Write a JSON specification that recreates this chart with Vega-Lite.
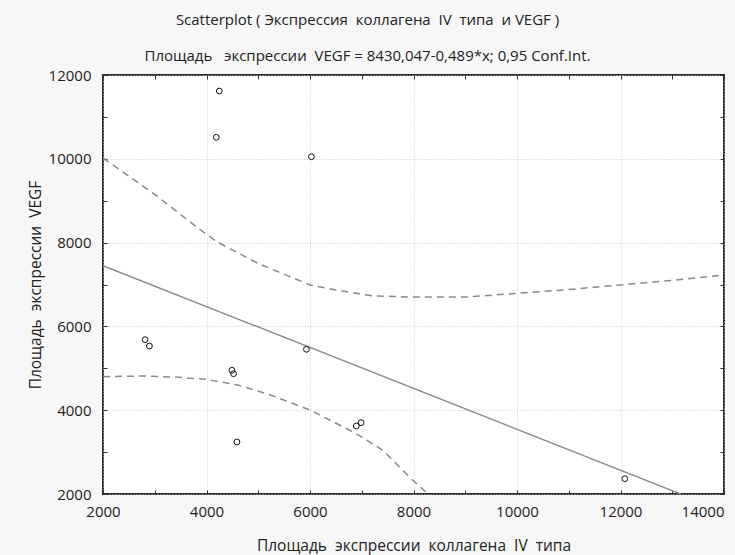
{
  "$schema": "https://vega.github.io/schema/vega-lite/v6.json",
  "width": 621,
  "height": 419,
  "autosize": {"type": "none"},
  "padding": {"left": 103, "top": 75, "right": 11, "bottom": 61},
  "background": "#f7f7f7",
  "config": {
    "view": {"fill": "white", "stroke": "#2a2a2a", "strokeWidth": 2},
    "font": "Open Sans"
  },
  "title": {
    "text": "Scatterplot ( Экспрессия \u00a0коллагена \u00a0IV \u00a0типа \u00a0и VEGF )",
    "subtitle": "Площадь \u00a0 экспрессии \u00a0VEGF = 8430,047-0,489*x; 0,95 Conf.Int.",
    "fontSize": 15,
    "fontWeight": "normal",
    "subtitleFontSize": 15,
    "color": "#222",
    "subtitleColor": "#222",
    "offset": 4,
    "subtitlePadding": 21,
    "anchor": "middle",
    "dx": -46
  },
  "datasets": {
    "pts": [
      {"x": 4247, "y": 11618},
      {"x": 4189, "y": 10513},
      {"x": 6027, "y": 10050},
      {"x": 2814, "y": 5683},
      {"x": 2897, "y": 5532},
      {"x": 4491, "y": 4952},
      {"x": 4523, "y": 4871},
      {"x": 4588, "y": 3241},
      {"x": 5931, "y": 5453},
      {"x": 6895, "y": 3623},
      {"x": 6986, "y": 3702},
      {"x": 12083, "y": 2365}
    ],
    "reg": [
      {"x": 2000, "y": 7450},
      {"x": 14000, "y": 1590}
    ],
    "upper": [
      {"x": 2000, "y": 10020},
      {"x": 3000, "y": 9150},
      {"x": 3800, "y": 8380},
      {"x": 4200, "y": 8020},
      {"x": 5000, "y": 7500},
      {"x": 6000, "y": 6990},
      {"x": 6500, "y": 6870},
      {"x": 7200, "y": 6730},
      {"x": 8000, "y": 6700},
      {"x": 9000, "y": 6700},
      {"x": 10000, "y": 6790},
      {"x": 11000, "y": 6880},
      {"x": 12000, "y": 6990},
      {"x": 13000, "y": 7100},
      {"x": 14000, "y": 7230}
    ],
    "lower": [
      {"x": 2000, "y": 4800},
      {"x": 2770, "y": 4816},
      {"x": 3400, "y": 4790},
      {"x": 4000, "y": 4737},
      {"x": 4600, "y": 4600},
      {"x": 5200, "y": 4380},
      {"x": 6000, "y": 4005},
      {"x": 6880, "y": 3450},
      {"x": 7400, "y": 3050},
      {"x": 7980, "y": 2334},
      {"x": 8300, "y": 1980}
    ]
  },
  "layer": [
    {
      "data": {"name": "upper"},
      "mark": {"type": "line", "color": "#8a8a8a", "strokeWidth": 1.5, "strokeDash": [7, 5], "clip": true},
      "encoding": {
        "x": {"field": "x", "type": "quantitative", "scale": {"domain": [2000, 14000], "nice": false, "zero": false}, "axis": null},
        "y": {"field": "y", "type": "quantitative", "scale": {"domain": [2000, 12000], "nice": false, "zero": false}, "axis": null}
      }
    },
    {
      "data": {"name": "lower"},
      "mark": {"type": "line", "color": "#8a8a8a", "strokeWidth": 1.5, "strokeDash": [7, 5], "clip": true},
      "encoding": {
        "x": {"field": "x", "type": "quantitative", "axis": null},
        "y": {"field": "y", "type": "quantitative", "axis": null}
      }
    },
    {
      "data": {"name": "reg"},
      "mark": {"type": "line", "color": "#8a8a8a", "strokeWidth": 1.4, "clip": true},
      "encoding": {
        "x": {"field": "x", "type": "quantitative", "axis": {
          "orient": "top", "values": [2000,3000,4000,5000,6000,7000,8000,9000,10000,11000,12000,13000,14000],
          "labels": false, "title": null, "grid": false, "domain": false, "tickSize": -4, "tickColor": "#333"}},
        "y": {"field": "y", "type": "quantitative", "axis": {
          "orient": "right", "values": [2000,3000,4000,5000,6000,7000,8000,9000,10000,11000,12000],
          "labels": false, "title": null, "grid": false, "domain": false, "tickSize": -4, "tickColor": "#333"}}
      }
    },
    {
      "data": {"name": "pts"},
      "mark": {"type": "point", "shape": "circle", "filled": false, "color": "#111", "size": 34, "strokeWidth": 1, "opacity": 1},
      "encoding": {
        "x": {"field": "x", "type": "quantitative", "axis": {
          "orient": "bottom",
          "values": [2000,3000,4000,5000,6000,7000,8000,9000,10000,11000,12000,13000,14000],
          "labelExpr": "datum.value % 2000 === 0 ? datum.label : ''",
          "format": "d",
          "tickSize": -4, "tickColor": "#333",
          "grid": true, "gridColor": "#c8c8c8", "gridDash": [1, 2],
          "gridOpacity": {"condition": {"test": "datum.value % 2000 === 0", "value": 1}, "value": 0},
          "domain": false,
          "labelFontSize": 15, "labelColor": "#222", "labelPadding": 14,
          "labelAlign": {"condition": {"test": "datum.value === 14000", "value": "right"}, "value": "center"},
          "labelFlush": false, "labelOverlap": false,
          "title": "Площадь \u00a0экспрессии \u00a0коллагена \u00a0IV \u00a0типа",
          "titleFontSize": 15.5, "titleFontWeight": "normal", "titleColor": "#222", "titlePadding": 19
        }},
        "y": {"field": "y", "type": "quantitative", "axis": {
          "orient": "left",
          "values": [2000,3000,4000,5000,6000,7000,8000,9000,10000,11000,12000],
          "labelExpr": "datum.value % 2000 === 0 ? datum.label : ''",
          "format": "d",
          "tickSize": -4, "tickColor": "#333",
          "grid": true, "gridColor": "#c8c8c8", "gridDash": [1, 2],
          "gridOpacity": {"condition": {"test": "datum.value % 2000 === 0", "value": 1}, "value": 0},
          "domain": false,
          "labelFontSize": 15, "labelColor": "#222", "labelPadding": 16,
          "labelFlush": false, "labelOverlap": false,
          "title": "Площадь \u00a0экспрессии \u00a0VEGF",
          "titleFontSize": 15.5, "titleFontWeight": "normal", "titleColor": "#222", "titlePadding": 5
        }}
      }
    }
  ],
  "resolve": {"axis": {"x": "independent", "y": "independent"}}
}
